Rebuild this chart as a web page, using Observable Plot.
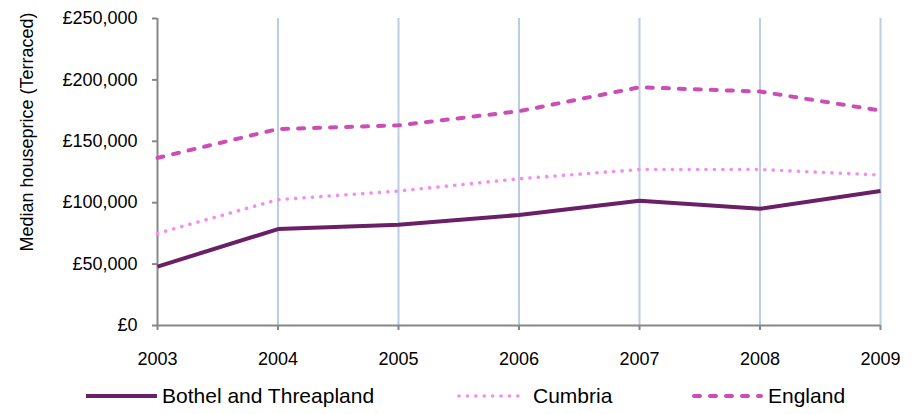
<!DOCTYPE html>
<html>
<head>
<meta charset="utf-8">
<script src="https://cdn.jsdelivr.net/npm/d3@7"></script>
<script src="https://cdn.jsdelivr.net/npm/@observablehq/plot@0.6"></script>
<style>
  html, body { margin: 0; padding: 0; background: #fff; }
  #chart { position: relative; width: 917px; height: 414px; font-family: "Liberation Sans", Arial, sans-serif; }
  #chart svg g[aria-label^="x-axis"] line, #chart svg g[aria-label^="y-axis"] line,
  #chart svg g[aria-label="x-axis tick"] path, #chart svg g[aria-label="y-axis tick"] path { stroke: #878787 !important; stroke-width: 2 !important; }
  #chart svg g[aria-label^="x-axis"] text, #chart svg g[aria-label^="y-axis"] text { font-size: 18px !important; font-variant: normal !important; font-family: "Liberation Sans", Arial, sans-serif !important; }
  .legend { position: absolute; left: 0; top: 372px; height: 48px; width: 917px; display: flex; align-items: center; font-size: 21px; color: #000; }
  .item { position: absolute; display: flex; align-items: center; }
  .item svg { margin-right: 5px; }
</style>
</head>
<body>
<div id="chart"></div>
<script>
const years = [2003, 2004, 2005, 2006, 2007, 2008, 2009];
const seriesNames = ["Bothel and Threapland", "Cumbria", "England"];
const bothel = [48000, 78500, 82000, 90000, 101500, 95000, 109500];
const cumbria = [75000, 102500, 109500, 119500, 127000, 127000, 122500];
const england = [136500, 160000, 163000, 174500, 194000, 190500, 175000];
const yTicks = [0, 50000, 100000, 150000, 200000, 250000];
const yLabel = "Median houseprice (Terraced)";

const styles = {
  "Bothel and Threapland": {stroke: "#6B1F66", strokeWidth: 4, strokeDasharray: null, strokeLinecap: "butt"},
  "Cumbria": {stroke: "#F28EF0", strokeWidth: 3.6, strokeDasharray: "0.1,8.3", strokeLinecap: "round"},
  "England": {stroke: "#CC4DB5", strokeWidth: 4, strokeDasharray: "6,10", strokeLinecap: "round"}
};
const valuesBy = {"Bothel and Threapland": bothel, "Cumbria": cumbria, "England": england};
const table = seriesNames.flatMap(s => years.map((y, i) => ({series: s, year: y, value: valuesBy[s][i]})));

const fmt = d => "£" + d3.format(",")(d);
const drawOrder = ["England", "Cumbria", "Bothel and Threapland"];

const plot = Plot.plot({
  width: 917,
  height: 372,
  marginLeft: 157,
  marginRight: 37,
  marginTop: 18,
  marginBottom: 47,
  style: {fontFamily: '"Liberation Sans", Arial, sans-serif', fontSize: "18px", color: "#000", background: "#fff", overflow: "visible"},
  x: {domain: [2003, 2009], ticks: years, tickFormat: d => String(d), tickSize: 5, tickPadding: 22, label: null},
  y: {domain: [0, 250000], ticks: yTicks, tickFormat: fmt, tickSize: 5, tickPadding: 15, label: null},
  marks: [
    Plot.ruleX(years.slice(1), {y1: 0, y2: 250000, stroke: "#B9CDE5", strokeWidth: 2}),
    Plot.ruleX([2003], {y1: 0, y2: 250000, stroke: "#878787", strokeWidth: 2}),
    Plot.ruleY([0], {stroke: "#878787", strokeWidth: 2}),
    ...drawOrder.map(s => Plot.line(table.filter(d => d.series === s), {
      x: "year", y: "value",
      stroke: styles[s].stroke,
      strokeWidth: styles[s].strokeWidth,
      strokeDasharray: styles[s].strokeDasharray,
      strokeLinecap: styles[s].strokeLinecap,
      strokeLinejoin: "round"
    }))
  ]
});

d3.select(plot).selectAll('g[aria-label^="x-axis"], g[aria-label^="y-axis"]')
  .attr("font-size", "18px");
d3.select(plot).selectAll('g[aria-label^="x-axis"] text, g[aria-label^="y-axis"] text')
  .attr("font-size", "18px").style("font-size", "18px");

d3.select(plot).append("text")
  .attr("transform", "translate(33,132) rotate(-90)")
  .attr("text-anchor", "middle")
  .attr("font-size", "18px")
  .attr("fill", "#000")
  .text(yLabel);

const chart = document.getElementById("chart");
chart.appendChild(plot);

const legend = document.createElement("div");
legend.className = "legend";
const legendLeft = [86, 457, 692];
seriesNames.forEach((s, i) => {
  const st = styles[s];
  const item = document.createElement("div");
  item.className = "item";
  item.style.left = legendLeft[i] + "px";
  item.innerHTML = `<svg width="71" height="10"><line x1="${st.strokeLinecap === 'round' ? 2 : 0}" y1="5" x2="${st.strokeLinecap === 'round' ? 69 : 71}" y2="5" stroke="${st.stroke}" stroke-width="${st.strokeWidth}" ${st.strokeDasharray ? `stroke-dasharray="${st.strokeDasharray}"` : ""} stroke-linecap="${st.strokeLinecap}"/></svg><span>${s}</span>`;
  legend.appendChild(item);
});
chart.appendChild(legend);
</script>
</body>
</html>
